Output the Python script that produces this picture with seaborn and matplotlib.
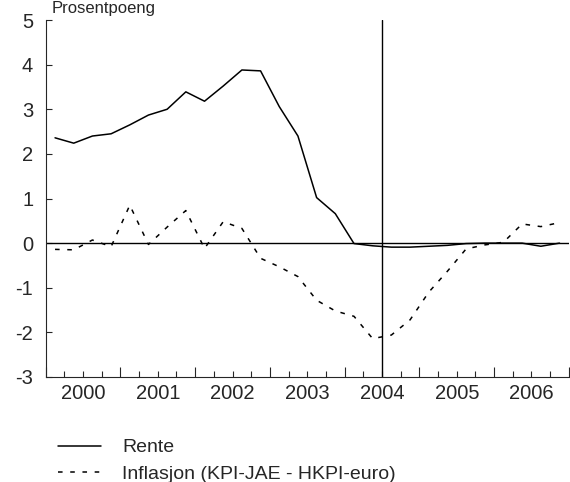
import matplotlib
matplotlib.use("Agg")
from matplotlib import pyplot as plt
from matplotlib.lines import Line2D
from matplotlib.ticker import FixedLocator, FixedFormatter
import numpy as np
import pandas as pd
import seaborn as sns

# quarterly data, 2000 Q1 - 2006 Q4
start_year = 2000
years = [2000, 2001, 2002, 2003, 2004, 2005, 2006]
rente = [2.36, 2.24, 2.40, 2.45, 2.65, 2.87, 3.00, 3.39,
         3.18, 3.52, 3.88, 3.86, 3.06, 2.40, 1.02, 0.66,
         -0.01, -0.06, -0.09, -0.09, -0.07, -0.05, -0.01, 0.00,
         0.00, 0.00, -0.07, 0.00]
inflasjon = [-0.14, -0.15, 0.07, -0.08, 0.85, -0.03, 0.36, 0.73,
             -0.12, 0.48, 0.33, -0.34, -0.53, -0.75, -1.28, -1.52,
             -1.64, -2.14, -2.06, -1.72, -1.10, -0.63, -0.13, -0.04,
             0.02, 0.43, 0.37, 0.46]
labels = ["Rente", "Inflasjon (KPI-JAE - HKPI-euro)"]

# quarter midpoints as x positions
x = start_year + (np.arange(len(rente)) + 0.5) / 4
df = pd.DataFrame({"x": x, "rente": rente, "inflasjon": inflasjon})

sns.set_style("ticks")
plt.rcParams["font.family"] = ["Liberation Sans", "DejaVu Sans"]
plt.rcParams["font.size"] = 14
plt.rcParams["axes.unicode_minus"] = False

fig = plt.figure(figsize=(5.7, 4.82), dpi=100)
ax = fig.add_axes([45.7 / 570, 1 - 377 / 482, 1 - 45.7 / 570 - 0.002, 357 / 482])

sns.lineplot(data=df, x="x", y="rente", ax=ax, color="black", lw=1.1)
sns.lineplot(data=df, x="x", y="inflasjon", ax=ax, color="black", lw=1.1,
             dashes=False, linestyle=(0, (3, 5)))

ax.axhline(0, color="black", lw=1.0)
ax.axvline(2004.5, color="black", lw=1.0)

ax.set_xlim(years[0], years[-1] + 1)
ax.set_ylim(-3, 5)
ax.set_yticks(range(-3, 6))
ax.set_xlabel("")
ax.set_ylabel("")

# long ticks at year boundaries, short at quarters, year labels mid-year
ax.xaxis.set_major_locator(FixedLocator(range(years[0], years[-1] + 2)))
ax.xaxis.set_major_formatter(FixedFormatter([""] * (len(years) + 1)))
minor_pos = [y + q / 4 for y in years for q in (1, 2, 3)]
minor_lab = [str(y) if q == 2 else "" for y in years for q in (1, 2, 3)]
ax.xaxis.set_minor_locator(FixedLocator(minor_pos))
ax.xaxis.set_minor_formatter(FixedFormatter(minor_lab))
ax.tick_params(axis="x", which="major", direction="in", length=7, width=0.8)
ax.tick_params(axis="x", which="minor", direction="in", length=4, width=0.8,
               pad=5, labelsize=14.5)
ax.tick_params(axis="y", direction="in", length=4, width=0.8, pad=9,
               labelsize=14.5)

sns.despine(ax=ax)
for s in ("left", "bottom"):
    ax.spines[s].set_linewidth(0.8)

handles = [Line2D([], [], color="black", lw=1.1),
           Line2D([], [], color="black", lw=1.1, linestyle=(0, (3, 5)))]
fig.legend(handles, labels, loc="upper left",
           bbox_to_anchor=(50 / 570, 1 - 431 / 482), frameon=False,
           handlelength=2.2, handletextpad=1.1, labelspacing=0.45,
           fontsize=14, borderaxespad=0)

fig.text(52 / 570, 1 - 1 / 482, "Prosentpoeng", fontsize=12, va="top")

fig.savefig("out.png", dpi=100)
